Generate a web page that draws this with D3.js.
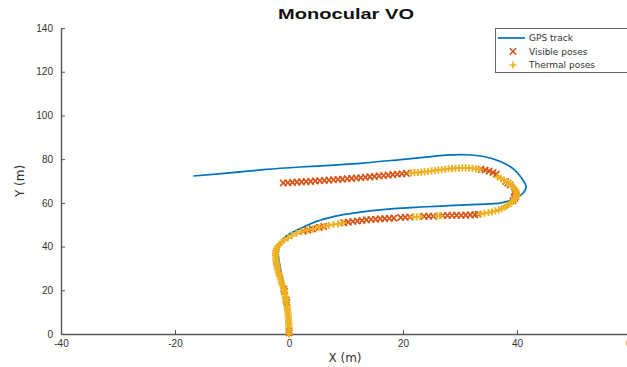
<!DOCTYPE html>
<html>
<head>
<meta charset="utf-8">
<script src="https://cdn.jsdelivr.net/npm/d3@7/dist/d3.min.js"></script>
<style>
  body { margin: 0; background: #fff; }
  svg { display: block; font-family: 'DejaVu Sans', sans-serif; }
  .axis path, .axis line { stroke: #555; }
  .axis text { fill: #333; font-size: 10px; }
</style>
</head>
<body>
<div id="chart"></div>
<script>
// axis ticks
const xTicks = [-40, -20, 0, 20, 40, 60];
const yTicks = [0, 20, 40, 60, 80, 100, 120, 140];

// GPS track [x, y] in metres
const gpsTrack = [
  [0, 0], [-0.3, 10], [-0.8, 20], [-1.5, 30], [-1.9, 37], [-1.6, 41], [-0.9, 43.9],
  [0.8, 46.8], [2.6, 49], [4.5, 51.2], [6.8, 53], [9.5, 54.6], [12.6, 55.8], [16, 56.8],
  [19.6, 57.6], [23.2, 58.1], [28, 58.7], [33, 59.3], [37.2, 60], [39.8, 62.2], [41, 64.3],
  [41.6, 67.2], [40.9, 71], [39.5, 75.2], [37.2, 78.8], [34.2, 81.2], [31, 82], [27.5, 81.8],
  [24, 80.9], [19.6, 79.8], [13, 78.2], [8, 77.3], [2, 76.4], [-4, 75.3], [-10, 73.8], [-16.8, 72.3]
];

// visible camera poses [x, y]
const visiblePoses = [
  // upper branch
  [-1, 69.1], [-0.2, 69.2], [0.6, 69.35], [1.4, 69.5], [2.2, 69.6], [3, 69.7], [3.8, 69.85],
  [4.6, 70], [5.4, 70.1], [6.2, 70.25], [7, 70.4], [7.8, 70.55], [8.6, 70.7], [9.4, 70.85],
  [10.2, 71], [11, 71.2], [11.8, 71.35], [12.6, 71.5], [13.4, 71.7], [14.2, 71.9], [15, 72.1],
  [15.8, 72.3], [16.6, 72.5], [17.4, 72.7], [18.2, 72.9], [19, 73.1], [19.8, 73.3], [20.6, 73.5],
  [33.7, 75.3], [34.4, 75], [35.1, 74.5], [35.8, 73.9], [36.4, 73.2],
  // turn
  [38, 69.8], [38.4, 69], [38.8, 68.2], [39.5, 65], [39.7, 64], [39.8, 63], [39.6, 62], [39.3, 61],
  // lower branch
  [33.2, 54.8], [32.6, 54.6], [31.8, 54.5], [31, 54.4], [30.2, 54.3], [29.4, 54.3], [28.6, 54.3],
  [27.8, 54.2], [27, 54.2], [25.3, 53.9], [24.5, 53.9], [23.7, 53.8], [21.2, 53.5], [20.4, 53.4],
  [19.6, 53.3], [18.4, 53], [17.6, 52.9], [16.8, 52.8], [16, 52.7], [15.2, 52.5], [14.4, 52.4],
  [13.6, 52.2], [12.8, 51.9], [12, 51.7], [11.2, 51.5], [10.4, 51.2], [9.6, 50.9],
  [6.1, 49.2], [5.3, 48.8], [4.1, 48.1], [3.3, 47.5], [2.5, 47],
  // vertical start
  [-0.9, 20.5], [-0.8, 19.5], [-0.5, 15.5], [-0.4, 14.5], [0, 1.5], [0, 0.5]
];

// thermal camera poses [x, y]
const thermalPoses = [
  [0, 0], [0, 1], [0, 2], [0, 3], [-0.02, 4], [-0.05, 5], [-0.07, 6], [-0.1, 7], [-0.12, 8],
  [-0.15, 9], [-0.2, 10], [-0.25, 11], [-0.3, 12], [-0.35, 13], [-0.45, 14], [-0.5, 15],
  [-0.55, 16], [-0.65, 17], [-0.7, 18], [-0.8, 19], [-0.9, 20], [-1, 21], [-1.1, 22],
  [-1.25, 23], [-1.35, 24], [-1.5, 25], [-1.6, 26], [-1.7, 27], [-1.85, 28], [-1.95, 29],
  [-2.05, 30], [-2.1, 31], [-2.2, 32], [-2.25, 33], [-2.3, 34], [-2.3, 35], [-2.35, 36],
  [-2.35, 37], [-2.3, 38], [-2.2, 39], [-2, 40], [-1.7, 41], [-1.3, 42], [-0.8, 43], [-0.2, 44],
  [0.5, 45], [1.3, 46], [2.2, 46.8], [3.2, 47.5],
  [4.2, 48.1], [5.2, 48.7], [6.2, 49.3], [7, 49.7], [7.8, 50.1], [8.6, 50.4], [9.4, 50.8],
  [21.8, 53.6], [22.4, 53.6], [23, 53.7], [26, 54], [26.5, 54.1],
  [33.6, 54.9], [34.3, 55.2], [35, 55.5], [35.6, 55.9], [36.2, 56.3], [36.8, 56.8], [37.3, 57.4],
  [37.8, 58], [38.2, 58.6], [38.6, 59.3], [39, 60], [39.3, 60.8], [39.6, 61.6], [39.8, 62.4],
  [39.9, 63.2], [40, 64], [39.9, 64.8], [39.8, 65.6], [39.6, 66.4], [39.4, 67.2], [39.1, 68],
  [38.7, 68.8], [38.2, 69.6], [37.7, 70.4], [37.2, 71.1], [36.6, 71.8],
  [33.4, 75.3], [32.8, 75.6], [32.2, 75.8], [31.6, 75.9], [31, 76], [30.4, 76], [29.8, 75.9],
  [29.2, 75.8], [28.6, 75.7], [28, 75.6], [27.4, 75.4], [26.8, 75.2], [26.2, 75], [25.6, 74.8],
  [25, 74.6], [24.4, 74.4], [23.8, 74.2], [23.2, 74], [22.6, 73.9], [22, 73.8], [21.4, 73.7]
];

const legendLabels = ["GPS track", "Visible poses", "Thermal poses"];
const colors = { gps: "#0072BD", visible: "#D95319", thermal: "#EDB120" };

const W = 627, H = 367;
const svg = d3.select("#chart").append("svg")
  .attr("width", W)
  .attr("height", H);

// soft blur, the reference is a slightly blurry scan
svg.append("defs").append("filter")
  .attr("id", "soft")
  .append("feGaussianBlur").attr("stdDeviation", 0.35);

const x = d3.scaleLinear().domain([-40, 60]).range([61, 631]);
const y = d3.scaleLinear().domain([0, 140]).range([334, 28]);

// plain hyphen minus like the matlab figure
const fmt = d => String(d);

// axes (ticks point inward, no box)
svg.append("g")
  .attr("class", "axis")
  .attr("transform", `translate(0,${y(0)})`)
  .call(d3.axisBottom(x).tickValues(xTicks).tickFormat(fmt).tickSize(-4).tickPadding(6).tickSizeOuter(0))
  .call(g => g.select(".domain").attr("stroke-width", 1.4));

svg.append("g")
  .attr("class", "axis")
  .attr("transform", `translate(${x(-40)},0)`)
  .call(d3.axisLeft(y).tickValues(yTicks).tickFormat(fmt).tickSize(-4).tickPadding(8).tickSizeOuter(0))
  .call(g => g.select(".domain").attr("stroke-width", 1.4));

// title + axis labels
svg.append("text")
  .attr("x", 346).attr("y", 19)
  .attr("text-anchor", "middle")
  .attr("textLength", 136).attr("lengthAdjust", "spacingAndGlyphs")
  .style("font-family", "'Liberation Sans', Arial, sans-serif")
  .style("font-weight", "bold").style("font-size", "14px")
  .attr("fill", "#111")
  .text("Monocular VO");

svg.append("text")
  .attr("x", 345).attr("y", 362)
  .attr("text-anchor", "middle")
  .style("font-size", "12px").attr("fill", "#333")
  .text("X (m)");

svg.append("text")
  .attr("transform", "translate(24,181) rotate(-90)")
  .attr("text-anchor", "middle")
  .style("font-size", "12px").attr("fill", "#333")
  .text("Y (m)");

// GPS track
const line = d3.line()
  .x(d => x(d[0]))
  .y(d => y(d[1]))
  .curve(d3.curveCatmullRom.alpha(0.5));

svg.append("path")
  .datum(gpsTrack)
  .attr("d", line)
  .attr("fill", "none")
  .attr("stroke", colors.gps)
  .attr("stroke-width", 1.7);

const crossPath = "M-3.2,-3.2L3.2,3.2M-3.2,3.2L3.2,-3.2";
const plusPath = "M-3.6,0H3.6M0,-3.6V3.6";

svg.append("g")
  .attr("filter", "url(#soft)")
  .selectAll("path")
  .data(visiblePoses)
  .join("path")
  .attr("transform", d => `translate(${x(d[0])},${y(d[1])})`)
  .attr("d", crossPath)
  .attr("stroke", colors.visible)
  .attr("stroke-width", 1.7);

svg.append("g")
  .attr("filter", "url(#soft)")
  .selectAll("path")
  .data(thermalPoses)
  .join("path")
  .attr("transform", d => `translate(${x(d[0])},${y(d[1])})`)
  .attr("d", plusPath)
  .attr("stroke", colors.thermal)
  .attr("stroke-width", 1.9);

// legend
const legend = svg.append("g").attr("transform", "translate(495,28)");
legend.append("rect")
  .attr("x", 0.5).attr("y", 0.5)
  .attr("width", 140).attr("height", 44)
  .attr("fill", "#fff")
  .attr("stroke", "#666");

const items = legend.selectAll(".item")
  .data(legendLabels)
  .join("g")
  .attr("class", "item")
  .attr("transform", (d, i) => `translate(0,${10 + i * 13.5})`);

items.append("text")
  .attr("x", 34).attr("y", 3.2)
  .style("font-size", "9px").attr("fill", "#333")
  .text(d => d);

items.filter((d, i) => i === 0).append("line")
  .attr("x1", 3).attr("x2", 30)
  .attr("stroke", colors.gps).attr("stroke-width", 1.7);
items.filter((d, i) => i === 1).append("path")
  .attr("transform", "translate(18,0)")
  .attr("d", crossPath)
  .attr("stroke", colors.visible).attr("stroke-width", 1.5);
items.filter((d, i) => i === 2).append("path")
  .attr("transform", "translate(18,0)")
  .attr("d", plusPath)
  .attr("stroke", colors.thermal).attr("stroke-width", 1.6);
</script>
</body>
</html>
